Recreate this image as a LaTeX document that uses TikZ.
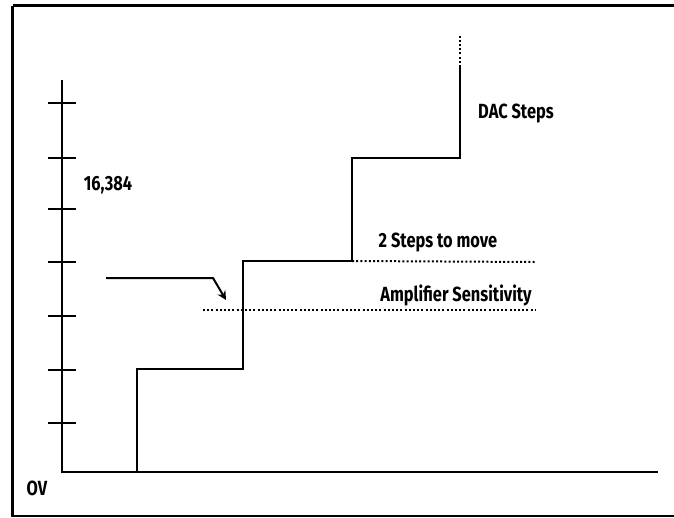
\documentclass[tikz,border=0pt]{standalone}
\usepackage{fontspec}
\setmainfont{Fira Sans}[FakeStretch=0.8]
\usepackage{xcolor}
\usetikzlibrary{calc,arrows.meta,positioning}
\definecolor{dacBlack}{RGB}{0,0,0}

\begin{document}
\begin{tikzpicture}[x=1pt,y=-1pt,
  lbl/.style={font=\bfseries\fontsize{20.5}{22}\selectfont, text=dacBlack, inner sep=0pt},
  tick/.style={dacBlack, line width=1.4pt},
  stair/.style={dacBlack, line width=1.8pt},
  guide/.style={dacBlack, line width=2pt, dash pattern=on 2pt off 2.2pt}]
\useasboundingbox (0,0) rectangle (674,517);
\draw[dacBlack, line width=3.5pt] (12.5,5.5) -- (680,5.5);
\draw[dacBlack, line width=3.5pt] (12.5,5.5) -- (12.5,517);
\draw[dacBlack, line width=2pt] (12.5,516) -- (680,516);

% axes
\coordinate (origin) at (62,472);
\coordinate (xend) at (658,472);
\coordinate (ytop) at (62,80);
\draw[dacBlack, line width=2pt] (ytop) -- (origin) -- (xend);
\foreach \ty in {103,158,209,262,316,370,423}
  \draw[tick] (48,\ty) -- (76,\ty);

% staircase
\coordinate (s0) at (137,472);
\coordinate (s1) at (137,369);
\coordinate (s2) at (243,369);
\coordinate (s3) at (243,261);
\coordinate (s4) at (352,261);
\coordinate (s5) at (352,158);
\coordinate (s6) at (460,158);
\coordinate (s7) at (460,67);
\coordinate (s8) at (460,34);
\draw[stair] (s0) -- (s1) -- (s2) -- (s3) -- (s4) -- (s5) -- (s6) -- (s7);
\draw[guide] (s7) -- (s8);

% sensitivity levels
\coordinate (lvlA) at (535,262);
\coordinate (lvlB0) at (203,310);
\coordinate (lvlB1) at (535,310);
\draw[guide] (s4) -- (lvlA);
\draw[guide] (lvlB0) -- (lvlB1);

% arrow
\coordinate (arrA) at (106,278);
\coordinate (arrB) at (213,278);
\coordinate (arrC) at (226,300);
\draw[dacBlack, line width=2pt, -{Stealth[length=9pt,width=9pt]}] (arrA) -- (arrB) -- (arrC);

% labels
\node[lbl] (dac) at (516,113) {DAC Steps};
\node[lbl] (full) at (108,185) {16,384};
\node[lbl] (twostep) at (438,242) {2 Steps to move};
\node[lbl] (sens) at (456,295) {Amplifier Sensitivity};
\node[lbl] (zero) at (37,488) {OV};
\end{tikzpicture}
\end{document}
